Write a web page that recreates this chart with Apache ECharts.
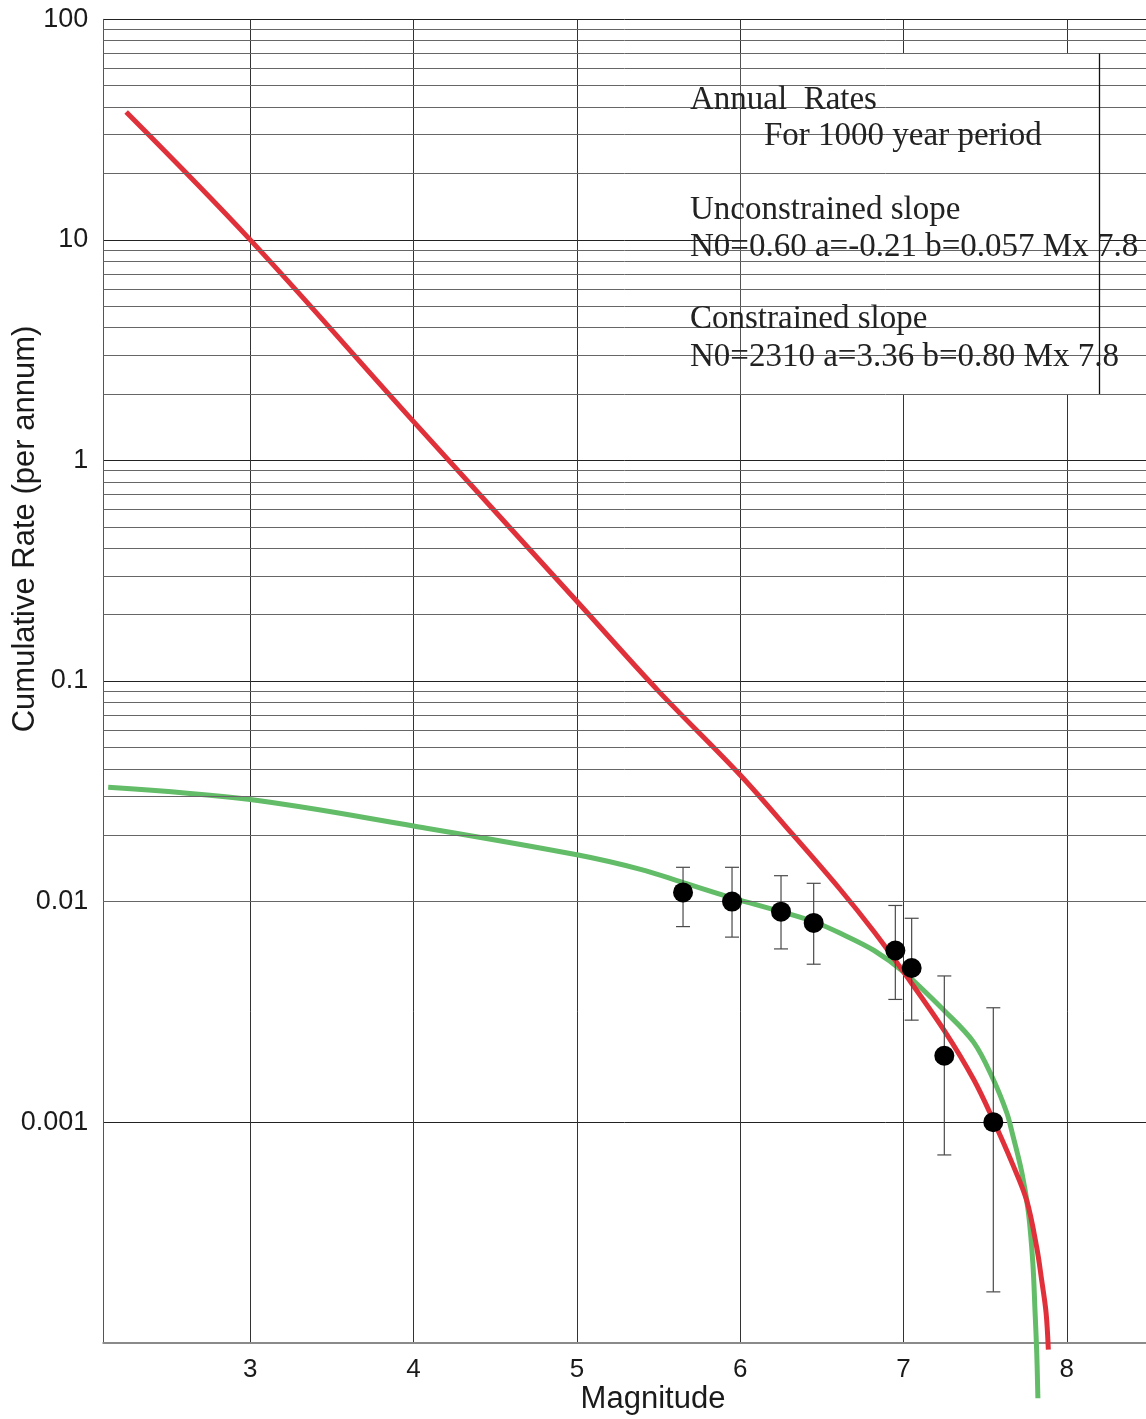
<!DOCTYPE html>
<html>
<head>
<meta charset="utf-8">
<script src="https://cdn.jsdelivr.net/npm/echarts@6/dist/echarts.min.js"></script>
<style>
  html, body { margin: 0; padding: 0; background: #ffffff; overflow: hidden; }
  #chart { width: 1146px; height: 1419px; }
</style>
</head>
<body>
<div id="chart"></div>
<script>
// Axis ticks
const xTicks = [3, 4, 5, 6, 7, 8];
const yTickLabels = ['0.001', '0.01', '0.1', '1', '10', '100'];

// Observed cumulative rates (1000-year catalogue) with error bounds
const magnitudes = [5.65, 5.95, 6.25, 6.45, 6.95, 7.05, 7.25, 7.55];
const rates      = [0.011, 0.010, 0.009, 0.008, 0.006, 0.005, 0.002, 0.001];
const rateUpper  = [0.0143, 0.0143, 0.0131, 0.0121, 0.0096, 0.0084, 0.0046, 0.0033];
const rateLower  = [0.0077, 0.0069, 0.0061, 0.0052, 0.0036, 0.0029, 0.00071, 0.00017];

// Constrained slope fit (N0=2310 a=3.36 b=0.80 Mx 7.8)
const constrainedMag  = [2.24, 3.0, 4.0, 5.0, 5.5, 6.0, 6.32, 6.61, 6.82, 7.0, 7.25, 7.43, 7.55, 7.67, 7.755, 7.816, 7.847, 7.873, 7.887];
const constrainedRate = [38, 10, 1.5, 0.23, 0.09, 0.0375, 0.0202, 0.0114, 0.0073, 0.0048, 0.0026, 0.00156, 0.00102, 0.00064, 0.00044, 0.00027, 0.00019, 0.000137, 0.000093];

// Unconstrained slope fit (N0=0.60 a=-0.21 b=0.057 Mx 7.8)
const unconstrainedMag  = [2.13, 3.0, 4.0, 5.0, 5.39, 5.65, 5.95, 6.25, 6.45, 6.61, 6.82, 7.0, 7.25, 7.43, 7.55, 7.633, 7.663, 7.725, 7.765, 7.792, 7.806, 7.816, 7.823];
const unconstrainedRate = [0.033, 0.029, 0.022, 0.0163, 0.0140, 0.0122, 0.0104, 0.0090, 0.0081, 0.0072, 0.0060, 0.0048, 0.0032, 0.0023, 0.00156, 0.0011, 0.00091, 0.00059, 0.00039, 0.00023, 0.000136, 0.00009, 0.000056];

// Legend box extent (magnitude, rate)
const boxMag  = [6.004, 8.2];
const boxRate = [70, 2];

// Annotation text
const noteLines = [
  'Annual  Rates',
  'For 1000 year period',
  'Unconstrained slope',
  'N0=0.60 a=-0.21 b=0.057 Mx 7.8',
  'Constrained slope',
  'N0=2310 a=3.36 b=0.80 Mx 7.8'
];

// Minor log grid values: 2..9 within each decade
const minorGrid = [];
for (let e = -4; e <= 1; e++) {
  for (let k = 2; k <= 9; k++) minorGrid.push(+(k * Math.pow(10, e)).toPrecision(3));
}

const zip = (a, b) => a.map((v, i) => [v, b[i]]);

const chart = echarts.init(document.getElementById('chart'), null, { renderer: 'canvas' });

const serifFont = '"Liberation Serif", "Times New Roman", serif';
const sansFont = '"Liberation Sans", Arial, Helvetica, sans-serif';

const option = {
  animation: false,
  backgroundColor: '#ffffff',
  grid: { left: 103.3, top: 19.3, right: 0, height: 1323.4, containLabel: false },
  xAxis: {
    type: 'value',
    min: 2.1,
    max: 8.485,
    axisLine: { show: true, onZero: false, lineStyle: { color: '#8a8a8a', width: 2 } },
    axisTick: { show: false },
    axisLabel: {
      showMinLabel: false,
      showMaxLabel: false,
      margin: 14,
      fontFamily: sansFont,
      fontSize: 26,
      color: '#1a1a1a',
      formatter: v => (xTicks.indexOf(Math.round(v)) >= 0 && Math.abs(v - Math.round(v)) < 1e-6) ? String(Math.round(v)) : ''
    },
    splitLine: { show: true, lineStyle: { color: '#333333', width: 1 } }
  },
  yAxis: {
    type: 'log',
    logBase: 10,
    min: 0.0001,
    max: 100,
    axisLine: { show: true, lineStyle: { color: '#555555', width: 1 } },
    axisTick: { show: false },
    axisLabel: {
      margin: 15,
      fontFamily: sansFont,
      fontSize: 27,
      color: '#1a1a1a',
      formatter: v => {
        const i = Math.round(Math.log10(v)) + 3;
        return (i >= 0 && i < yTickLabels.length) ? yTickLabels[i] : '';
      }
    },
    splitLine: { show: true, lineStyle: { color: '#222222', width: 1 } }
  },
  graphic: [
    {
      type: 'text', z: 100,
      x: 25, y: 529, rotation: Math.PI / 2,
      style: { text: 'Cumulative Rate (per annum)', fontFamily: sansFont, fontSize: 31, fill: '#1a1a1a', align: 'center', verticalAlign: 'middle' }
    },
    {
      type: 'text', z: 100,
      x: 653, y: 1399,
      style: { text: 'Magnitude', fontFamily: sansFont, fontSize: 31, fill: '#1a1a1a', align: 'center', verticalAlign: 'middle' }
    },
    { type: 'text', z: 100, x: 690, y: 100, style: { text: noteLines[0], fontFamily: serifFont, fontSize: 33, fill: '#222', verticalAlign: 'middle' } },
    { type: 'text', z: 100, x: 764, y: 136, style: { text: noteLines[1], fontFamily: serifFont, fontSize: 33, fill: '#222', verticalAlign: 'middle' } },
    { type: 'text', z: 100, x: 690, y: 210, style: { text: noteLines[2], fontFamily: serifFont, fontSize: 33, fill: '#222', verticalAlign: 'middle' } },
    { type: 'text', z: 100, x: 690, y: 247, style: { text: noteLines[3], fontFamily: serifFont, fontSize: 33, fill: '#222', verticalAlign: 'middle' } },
    { type: 'text', z: 100, x: 690, y: 319, style: { text: noteLines[4], fontFamily: serifFont, fontSize: 33, fill: '#222', verticalAlign: 'middle' } },
    { type: 'text', z: 100, x: 690, y: 357, style: { text: noteLines[5], fontFamily: serifFont, fontSize: 33, fill: '#222', verticalAlign: 'middle' } }
  ],
  series: [
    {
      // minor log grid lines
      name: 'minorGrid',
      type: 'line',
      data: [],
      z: 1,
      silent: true,
      markLine: {
        silent: true,
        symbol: ['none', 'none'],
        label: { show: false },
        lineStyle: { color: '#666666', width: 1, type: 'solid' },
        data: minorGrid.map(v => ({ yAxis: v }))
      }
    },
    {
      // white legend box with right border
      name: 'box',
      type: 'line',
      data: [],
      z: 2,
      silent: true,
      markArea: {
        silent: true,
        itemStyle: { color: '#ffffff', borderWidth: 0 },
        data: [[{ coord: [boxMag[0], boxRate[0]] }, { coord: [boxMag[1], boxRate[1]] }]]
      },
      markLine: {
        silent: true,
        symbol: ['none', 'none'],
        label: { show: false },
        lineStyle: { color: '#111111', width: 1.3, type: 'solid' },
        data: [[{ coord: [boxMag[1], boxRate[0]] }, { coord: [boxMag[1], boxRate[1]] }]]
      }
    },
    {
      name: 'Unconstrained slope',
      type: 'line',
      z: 3,
      clip: false,
      showSymbol: false,
      smooth: 0.35,
      data: zip(unconstrainedMag, unconstrainedRate),
      lineStyle: { color: '#62bc68', width: 5 }
    },
    {
      name: 'Constrained slope',
      type: 'line',
      z: 4,
      clip: false,
      showSymbol: false,
      smooth: 0.35,
      data: zip(constrainedMag, constrainedRate),
      lineStyle: { color: '#e0303a', width: 5 }
    },
    {
      name: 'errors',
      type: 'custom',
      z: 5,
      silent: true,
      data: magnitudes.map((m, i) => [m, rateLower[i], rateUpper[i]]),
      encode: { x: 0, y: [1, 2] },
      renderItem: (params, api) => {
        const m = api.value(0);
        const lo = api.coord([m, api.value(1)]);
        const hi = api.coord([m, api.value(2)]);
        const hw = 7;
        const style = { stroke: '#4a4a4a', lineWidth: 1.2 };
        return {
          type: 'group',
          children: [
            { type: 'line', shape: { x1: lo[0], y1: lo[1], x2: hi[0], y2: hi[1] }, style },
            { type: 'line', shape: { x1: lo[0] - hw, y1: lo[1], x2: lo[0] + hw, y2: lo[1] }, style },
            { type: 'line', shape: { x1: hi[0] - hw, y1: hi[1], x2: hi[0] + hw, y2: hi[1] }, style }
          ]
        };
      }
    },
    {
      name: 'Observed',
      type: 'scatter',
      z: 6,
      symbol: 'circle',
      symbolSize: 20,
      data: zip(magnitudes, rates),
      itemStyle: { color: '#000000', opacity: 1 }
    }
  ]
};

chart.setOption(option);
</script>
</body>
</html>
